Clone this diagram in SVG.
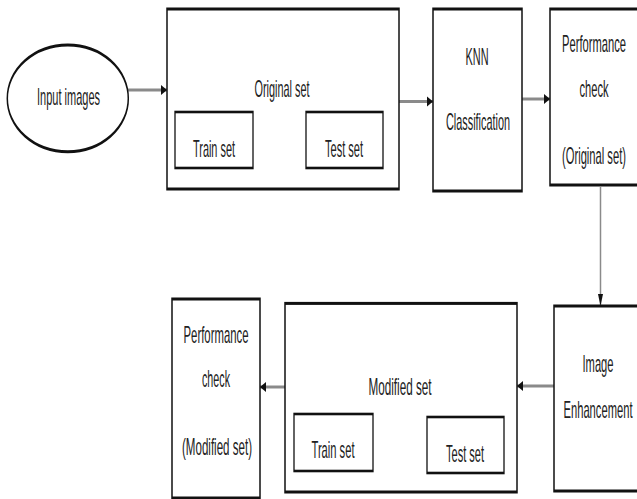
<svg xmlns="http://www.w3.org/2000/svg" width="637" height="499" viewBox="0 0 637 499">
<style>
.box{fill:#fff;stroke:#111;stroke-width:1.5}
.sub{fill:#fff;stroke:#111;stroke-width:1.3}
.conn{stroke:#8a8a8a;stroke-width:1.5;fill:none;marker-end:url(#ah)}
text{font-family:"Liberation Sans",Arial,sans-serif;font-size:24px;fill:#222;text-anchor:middle;lengthAdjust:spacingAndGlyphs}
</style>
<defs>
<marker id="ah" markerUnits="userSpaceOnUse" markerWidth="6" markerHeight="5" refX="6" refY="2.5" orient="auto" overflow="visible">
<path d="M0,0 L6,2.5 L0,5 z" fill="#111"/>
</marker>
</defs>
<rect width="637" height="499" fill="#fff"/>
<g id="connectors" transform="scale(1,2)">
<line class="conn" x1="128" y1="45" x2="167" y2="45"/>
<line class="conn" x1="399" y1="50.7" x2="433" y2="50.7"/>
<line class="conn" x1="522" y1="49.5" x2="550" y2="49.5"/>
<line class="conn" x1="600.5" y1="93.5" x2="600.5" y2="153"/>
<line class="conn" x1="554" y1="193" x2="517" y2="193"/>
<line class="conn" x1="285" y1="193.5" x2="260" y2="193.5"/>
</g>
<g id="input">
<ellipse class="box" transform="scale(1,2)" cx="67.8" cy="49.2" rx="60.5" ry="26.7"/>
<text x="68.5" y="105" textLength="63" lengthAdjust="spacingAndGlyphs">Input images</text>
</g>
<g id="original">
<rect class="box" transform="scale(1,2)" x="167" y="4.5" width="232" height="90"/>
<text x="282" y="97" textLength="55" lengthAdjust="spacingAndGlyphs">Original set</text>
</g>
<g id="train1">
<rect class="sub" transform="scale(1,2)" x="175" y="56" width="78" height="28"/>
<text x="214" y="157" textLength="42" lengthAdjust="spacingAndGlyphs">Train set</text>
</g>
<g id="test1">
<rect class="sub" transform="scale(1,2)" x="306" y="56" width="77" height="28"/>
<text x="344" y="157" textLength="38" lengthAdjust="spacingAndGlyphs">Test set</text>
</g>
<g id="knn">
<rect class="box" transform="scale(1,2)" x="433" y="4.5" width="89" height="91"/>
<text x="477" y="65" textLength="23" lengthAdjust="spacingAndGlyphs">KNN</text>
<text x="478" y="130" textLength="64" lengthAdjust="spacingAndGlyphs">Classification</text>
</g>
<g id="perf1">
<rect class="box" transform="scale(1,2)" x="550" y="4.5" width="100" height="88"/>
<text x="594" y="52" textLength="64" lengthAdjust="spacingAndGlyphs">Performance</text>
<text x="594" y="97" textLength="29" lengthAdjust="spacingAndGlyphs">check</text>
<text x="594" y="164" textLength="64" lengthAdjust="spacingAndGlyphs">(Original set)</text>
</g>
<g id="enhance">
<rect class="box" transform="scale(1,2)" x="554" y="153" width="100" height="92.5"/>
<text x="598" y="372" textLength="31" lengthAdjust="spacingAndGlyphs">Image</text>
<text x="598" y="418" textLength="69" lengthAdjust="spacingAndGlyphs">Enhancement</text>
</g>
<g id="modified">
<rect class="box" transform="scale(1,2)" x="285" y="151.7" width="232" height="94.3"/>
<text x="400" y="395" textLength="63" lengthAdjust="spacingAndGlyphs">Modified set</text>
</g>
<g id="train2">
<rect class="sub" transform="scale(1,2)" x="294" y="207" width="79" height="28.5"/>
<text x="333" y="458" textLength="43" lengthAdjust="spacingAndGlyphs">Train set</text>
</g>
<g id="test2">
<rect class="sub" transform="scale(1,2)" x="427" y="208.5" width="77" height="28"/>
<text x="465" y="462" textLength="38" lengthAdjust="spacingAndGlyphs">Test set</text>
</g>
<g id="perf2">
<rect class="box" transform="scale(1,2)" x="172" y="149.5" width="88" height="99.5"/>
<text x="216" y="343" textLength="65" lengthAdjust="spacingAndGlyphs">Performance</text>
<text x="216" y="387" textLength="28" lengthAdjust="spacingAndGlyphs">check</text>
<text x="217" y="455" textLength="70" lengthAdjust="spacingAndGlyphs">(Modified set)</text>
</g>
</svg>
